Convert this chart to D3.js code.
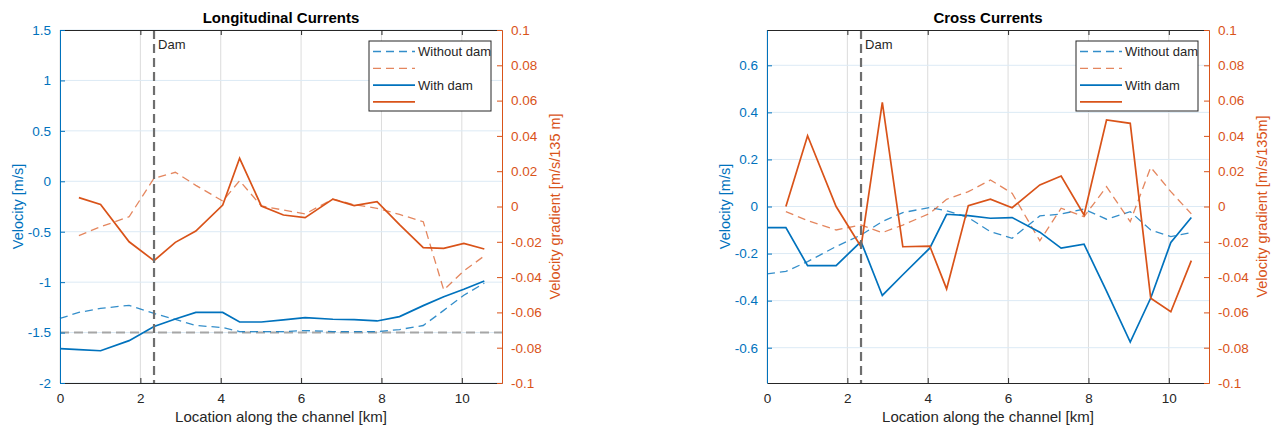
<!DOCTYPE html>
<html><head><meta charset="utf-8">
<script src="https://cdn.jsdelivr.net/npm/d3@7"></script>
<style>
body{margin:0;background:#fff;}
text{font-family:"Liberation Sans",Arial,Helvetica,sans-serif;}
</style></head>
<body><svg id="c" width="1279" height="428"></svg>
<script>
// Location along the channel [km]
const xKm = [0, 0.47, 1.01, 1.72, 2.34, 2.87, 3.38, 4.05, 4.47, 5.01, 5.56, 6.10, 6.79, 7.32, 7.89, 8.45, 9.04, 9.55, 10.05, 10.56];
const damKm = 2.34;
const xTicks = [0, 2, 4, 6, 8, 10];

// Longitudinal currents
const longVelNoDam = [-1.36, -1.30, -1.26, -1.23, -1.31, -1.37, -1.43, -1.45, -1.49, -1.49, -1.49, -1.48, -1.49, -1.49, -1.49, -1.47, -1.43, -1.28, -1.13, -1.01];
const longVelDam   = [-1.66, -1.67, -1.68, -1.58, -1.44, -1.365, -1.30, -1.30, -1.395, -1.395, -1.375, -1.352, -1.368, -1.372, -1.385, -1.342, -1.233, -1.144, -1.071, -0.989];
const longGradNoDam = [null, -0.0165, -0.0115, -0.0058, 0.016, 0.0194, 0.012, 0.0031, 0.0146, 0.0003, -0.002, -0.0042, 0.0042, 0.001, -0.001, -0.0045, -0.0086, -0.0473, -0.0365, -0.028];
const longGradDam   = [null, 0.005, 0.0012, -0.020, -0.0307, -0.0203, -0.0139, 0.0008, 0.0273, 0.0003, -0.0048, -0.0063, 0.0042, 0.0005, 0.0027, -0.0103, -0.0233, -0.0237, -0.0209, -0.0241];
const longRefLine = -1.5;

// Cross currents
const crossVelNoDam = [-0.286, -0.276, -0.234, -0.170, -0.121, -0.064, -0.026, -0.004, -0.018, -0.047, -0.107, -0.135, -0.040, -0.032, -0.011, -0.054, -0.022, -0.100, -0.128, -0.111];
const crossVelDam   = [-0.090, -0.090, -0.251, -0.251, -0.149, -0.378, -0.29, -0.177, -0.033, -0.039, -0.050, -0.047, -0.109, -0.177, -0.160, -0.36, -0.576, -0.389, -0.153, -0.047];
const crossGradNoDam = [null, -0.0029, -0.008, -0.0133, -0.0105, -0.0148, -0.0105, -0.0039, 0.0041, 0.0084, 0.015, 0.0075, -0.0194, -0.001, -0.0058, 0.0112, -0.0086, 0.0222, 0.0084, -0.0042];
const crossGradDam   = [null, 0.0, 0.0401, 0.0, -0.0228, 0.059, -0.0228, -0.0224, -0.0467, 0.0005, 0.0041, -0.0007, 0.0122, 0.0173, -0.0048, 0.049, 0.0471, -0.052, -0.0596, -0.0307];

const longLeftTicks = [-2, -1.5, -1, -0.5, 0, 0.5, 1, 1.5];
const crossLeftTicks = [-0.6, -0.4, -0.2, 0, 0.2, 0.4, 0.6];
const gradTicks = [-0.1, -0.08, -0.06, -0.04, -0.02, 0, 0.02, 0.04, 0.06, 0.08, 0.1];

const legendLabels = ["Without dam", "", "With dam", ""];

const BLUE = "#0072BD", ORANGE = "#D95319", DARK = "#262626";
const svg = d3.select("#c");

function panel(opt) {
  const g = svg.append("g");
  const x = d3.scaleLinear().domain([0, 11]).range([opt.x0, opt.x1]);
  const yL = d3.scaleLinear().domain(opt.leftDomain).range([383, 30]);
  const yR = d3.scaleLinear().domain([-0.1, 0.1]).range([383, 30]);
  const y0 = 30, y1 = 383;

  // grid
  g.append("g").selectAll("line").data(xTicks).join("line")
    .attr("x1", d => x(d)).attr("x2", d => x(d)).attr("y1", y0).attr("y2", y1)
    .attr("stroke", "#dcdcdc").attr("stroke-width", 1);
  g.append("g").selectAll("line").data(opt.leftTicks).join("line")
    .attr("x1", opt.x0).attr("x2", opt.x1).attr("y1", d => yL(d)).attr("y2", d => yL(d))
    .attr("stroke", "#dceaf5").attr("stroke-width", 1);

  // reference horizontal dashed line
  if (opt.refLine !== undefined) {
    g.append("line").attr("x1", opt.x0).attr("x2", opt.x1)
      .attr("y1", yL(opt.refLine)).attr("y2", yL(opt.refLine))
      .attr("stroke", "#a6a6a6").attr("stroke-width", 2).attr("stroke-dasharray", "9,5");
  }

  const lineL = d3.line().x((d, i) => x(xKm[i])).y(d => yL(d));
  const lineR = d3.line().defined(d => d !== null).x((d, i) => x(xKm[i])).y(d => yR(d));

  g.append("path").attr("d", lineL(opt.velNoDam)).attr("fill", "none")
    .attr("stroke", BLUE).attr("stroke-opacity", 0.8).attr("stroke-width", 1.3).attr("stroke-dasharray", "8,5");
  g.append("path").attr("d", lineR(opt.gradNoDam)).attr("fill", "none")
    .attr("stroke", ORANGE).attr("stroke-opacity", 0.7).attr("stroke-width", 1.3).attr("stroke-dasharray", "8,5");
  g.append("path").attr("d", lineL(opt.velDam)).attr("fill", "none")
    .attr("stroke", BLUE).attr("stroke-width", 1.7);
  g.append("path").attr("d", lineR(opt.gradDam)).attr("fill", "none")
    .attr("stroke", ORANGE).attr("stroke-width", 1.7);

  // dam line
  g.append("line").attr("x1", x(damKm)).attr("x2", x(damKm)).attr("y1", y0).attr("y2", y1)
    .attr("stroke", "#6e6e6e").attr("stroke-width", 2.2).attr("stroke-dasharray", "9,5");
  g.append("text").attr("x", x(damKm) + 4).attr("y", 49).attr("font-size", 13).attr("fill", DARK).text("Dam");

  // axes box
  const bottomAxis = d3.axisBottom(x).tickValues(xTicks).tickFormat(d3.format("d")).tickSizeInner(-5).tickSizeOuter(0).tickPadding(10);
  const ga = g.append("g").attr("transform", `translate(0,${y1})`).call(bottomAxis);
  ga.select(".domain").attr("stroke", DARK);
  ga.selectAll(".tick line").attr("stroke", DARK);
  ga.selectAll("text").attr("font-size", 13.5).attr("fill", DARK).attr("font-family", "Liberation Sans, Arial, sans-serif");
  const topAxis = d3.axisTop(x).tickValues(xTicks).tickFormat("").tickSizeInner(-5).tickSizeOuter(0);
  const gt = g.append("g").attr("transform", `translate(0,${y0})`).call(topAxis);
  gt.select(".domain").attr("stroke", DARK);
  gt.selectAll(".tick line").attr("stroke", DARK);

  const leftAxis = d3.axisLeft(yL).tickValues(opt.leftTicks).tickFormat(d => String(d)).tickSizeInner(-5).tickSizeOuter(0).tickPadding(9);
  const gl = g.append("g").attr("transform", `translate(${opt.x0},0)`).call(leftAxis);
  gl.select(".domain").attr("stroke", BLUE);
  gl.selectAll(".tick line").attr("stroke", BLUE);
  gl.selectAll("text").attr("font-size", 13.5).attr("fill", BLUE).attr("font-family", "Liberation Sans, Arial, sans-serif");

  const rightAxis = d3.axisRight(yR).tickValues(gradTicks).tickFormat(d => String(+d.toFixed(2))).tickSizeInner(-5).tickSizeOuter(0).tickPadding(9);
  const gr = g.append("g").attr("transform", `translate(${opt.x1},0)`).call(rightAxis);
  gr.select(".domain").attr("stroke", ORANGE);
  gr.selectAll(".tick line").attr("stroke", ORANGE);
  gr.selectAll("text").attr("font-size", 13.5).attr("fill", ORANGE).attr("font-family", "Liberation Sans, Arial, sans-serif");

  // labels
  const xm = (opt.x0 + opt.x1) / 2;
  g.append("text").attr("x", xm).attr("y", 23).attr("text-anchor", "middle")
    .attr("font-size", 15).attr("font-weight", "bold").attr("fill", "#000").text(opt.title);
  g.append("text").attr("x", xm).attr("y", 422).attr("text-anchor", "middle")
    .attr("font-size", 15).attr("fill", DARK).text("Location along the channel [km]");
  g.append("text").attr("transform", `translate(${opt.x0 - 37},206.5) rotate(-90)`).attr("text-anchor", "middle")
    .attr("font-size", 14.5).attr("fill", BLUE).text("Velocity [m/s]");
  g.append("text").attr("transform", `translate(${opt.x1 + 58},206.5) rotate(-90)`).attr("text-anchor", "middle")
    .attr("font-size", 14.5).attr("fill", ORANGE).text(opt.rightLabel);

  // legend
  const lx = opt.x1 - 133, ly = 41, lw = 122, lh = 70;
  const lg = g.append("g");
  lg.append("rect").attr("x", lx).attr("y", ly).attr("width", lw).attr("height", lh)
    .attr("fill", "#fff").attr("stroke", DARK).attr("stroke-width", 1);
  const items = [
    {c: BLUE, dash: "8,5", w: 1.3, op: 0.8},
    {c: ORANGE, dash: "8,5", w: 1.3, op: 0.7},
    {c: BLUE, dash: null, w: 1.7, op: 1},
    {c: ORANGE, dash: null, w: 1.7, op: 1}
  ];
  items.forEach((it, i) => {
    const yy = ly + 10.5 + i * 16.8;
    const ln = lg.append("line").attr("x1", lx + 4).attr("x2", lx + 46).attr("y1", yy).attr("y2", yy)
      .attr("stroke", it.c).attr("stroke-width", it.w).attr("stroke-opacity", it.op);
    if (it.dash) ln.attr("stroke-dasharray", it.dash);
    lg.append("text").attr("x", lx + 49).attr("y", yy + 4.5).attr("font-size", 13).attr("fill", DARK).text(legendLabels[i]);
  });
}

panel({x0: 60, x1: 502, leftDomain: [-2, 1.5], leftTicks: longLeftTicks, refLine: longRefLine,
  velNoDam: longVelNoDam, velDam: longVelDam, gradNoDam: longGradNoDam, gradDam: longGradDam,
  title: "Longitudinal Currents", rightLabel: "Velocity gradient [m/s/135 m]"});
panel({x0: 767, x1: 1209, leftDomain: [-0.75, 0.75], leftTicks: crossLeftTicks,
  velNoDam: crossVelNoDam, velDam: crossVelDam, gradNoDam: crossGradNoDam, gradDam: crossGradDam,
  title: "Cross Currents", rightLabel: "Velocity gradient [m/s/135m]"});
</script></body></html>
